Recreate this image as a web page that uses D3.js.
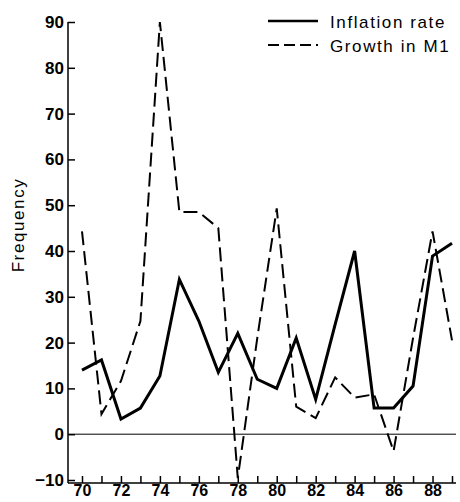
<!DOCTYPE html>
<meta charset="utf-8">
<head>
    <script type="text/javascript" src="https://d3js.org/d3.v7.min.js"></script>
    <style>
        body { margin: 0; background: #fff; }
        .axis text { font-family: "Liberation Sans", Arial, sans-serif; font-size: 17px; font-weight: bold; fill: #000; }
        .axis path, .axis line { stroke: #000; stroke-width: 1.5px; }
        .xaxis text { font-size: 16px; }
        .lbl { font-family: "Liberation Sans", Arial, sans-serif; font-size: 17px; fill: #000; letter-spacing: 1.6px; }
    </style>
    <title>Inflation rate and growth in M1</title>
</head>

<body>
    <div id="chart"></div>

    <script type="text/javascript">

        // years on the x axis
        var years = [70, 71, 72, 73, 74, 75, 76, 77, 78, 79, 80, 81, 82, 83, 84, 85, 86, 87, 88, 89];

        // inflation rate (solid line)
        var inflation = [14, 16.2, 3.3, 5.7, 12.7, 33.8, 24.7, 13.5, 22, 12, 10, 21, 7.6, 24, 40, 5.7, 5.7, 10.5, 38.9, 41.7];

        // growth in M1 (dashed line)
        var growthM1 = [44.3, 4.4, 11.6, 24.7, 90, 48.5, 48.5, 45, -9.6, 21, 49.3, 6, 3.5, 12.4, 8, 8.7, -3.7, 21, 44.3, 20.5];

        var yTicks = [-10, 0, 10, 20, 30, 40, 50, 60, 70, 80, 90];
        var xTicks = years;

        var legendNames = ["Inflation rate", "Growth in M1"];

        var w = 460;
        var h = 502;

        var svg = d3.select("#chart")
                    .append("svg")
                    .attr("width", w)
                    .attr("height", h);

        var x = d3.scaleLinear().domain([70, 89]).range([82, 452]);
        var y = d3.scaleLinear().domain([-10, 90]).range([480, 22]);

        var left = 68, bottom = 483, right = 456;

        // y axis, ticks pointing inward
        var yAxis = d3.axisLeft(y)
                      .tickValues(yTicks)
                      .tickSize(-7)
                      .tickPadding(4)
                      .tickFormat(d3.format("d"));

        var gy = svg.append("g")
           .attr("class", "axis")
           .attr("transform", "translate(" + left + ",0)")
           .call(yAxis);
        gy.select(".domain").remove();
        svg.append("line")
           .attr("x1", left).attr("x2", left)
           .attr("y1", y(90)).attr("y2", bottom)
           .attr("stroke", "#000").attr("stroke-width", 1.5);

        // x axis, ticks pointing up, only even years labelled
        var xAxis = d3.axisBottom(x)
                      .tickValues(xTicks)
                      .tickSize(-7)
                      .tickPadding(2)
                      .tickFormat(function(d) { return d % 2 === 0 ? d : ""; });

        var gx = svg.append("g")
           .attr("class", "axis xaxis")
           .attr("transform", "translate(0," + bottom + ")")
           .call(xAxis);
        gx.select(".domain").remove();
        svg.append("line")
           .attr("x1", left).attr("x2", right)
           .attr("y1", bottom).attr("y2", bottom)
           .attr("stroke", "#000").attr("stroke-width", 1.5);

        // zero line
        svg.append("line")
           .attr("x1", left).attr("x2", right)
           .attr("y1", y(0)).attr("y2", y(0))
           .attr("stroke", "#000").attr("stroke-width", 1);

        // y label
        svg.append("text")
           .attr("class", "lbl")
           .attr("transform", "translate(24,225) rotate(-90)")
           .attr("text-anchor", "middle")
           .text("Frequency");

        var line = d3.line()
                     .x(function(d) { return x(d[0]); })
                     .y(function(d) { return y(d[1]); });

        svg.append("path")
           .datum(d3.zip(years, growthM1))
           .attr("d", line)
           .attr("fill", "none")
           .attr("stroke", "#000")
           .attr("stroke-width", 2)
           .attr("stroke-dasharray", "14,6");

        svg.append("path")
           .datum(d3.zip(years, inflation))
           .attr("d", line)
           .attr("fill", "none")
           .attr("stroke", "#000")
           .attr("stroke-width", 3)
           .attr("stroke-linejoin", "miter");

        // legend
        var legend = svg.append("g");
        legendNames.forEach(function(name, i) {
            var ly = 21 + i * 24;
            legend.append("line")
                  .attr("x1", 268).attr("x2", 318)
                  .attr("y1", ly).attr("y2", ly)
                  .attr("stroke", "#000")
                  .attr("stroke-width", i === 0 ? 2.5 : 2)
                  .attr("stroke-dasharray", i === 0 ? null : "11,5");
            legend.append("text")
                  .attr("class", "lbl")
                  .attr("x", 330)
                  .attr("y", ly + 7)
                  .text(name);
        });

    </script>

</body>

</html>
